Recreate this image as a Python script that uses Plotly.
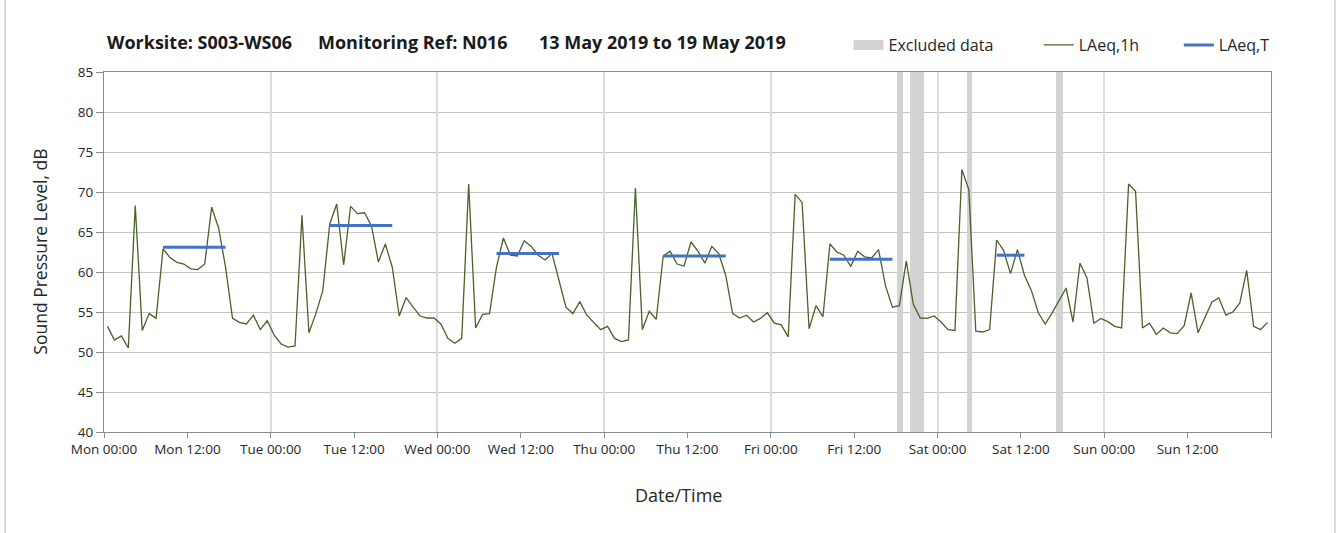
import pandas as pd
import plotly.graph_objects as go

# ---- data -------------------------------------------------------------
start_time = "2019-05-13 00:30"   # first hourly value (plotted mid-hour)
laeq_1h_mon = [53.2, 51.5, 52.0, 50.5, 68.3, 52.7, 54.8, 54.2, 62.9, 61.8, 61.2, 61.0,
               60.4, 60.3, 61.0, 68.1, 65.5, 60.6, 54.2, 53.7, 53.5, 54.6, 52.8, 53.9]
laeq_1h_tue = [52.1, 51.0, 50.6, 50.75, 67.1, 52.4, 54.8, 57.7, 66.0, 68.5, 60.9, 68.2,
               67.3, 67.4, 65.8, 61.25, 63.5, 60.6, 54.5, 56.8, 55.6, 54.5, 54.25, 54.25]
laeq_1h_wed = [53.5, 51.7, 51.1, 51.7, 71.0, 53.0, 54.7, 54.8, 60.6, 64.25, 62.1, 62.0,
               63.9, 63.2, 62.1, 61.5, 62.3, 59.0, 55.6, 54.8, 56.3, 54.6, 53.75, 52.8]
laeq_1h_thu = [53.2, 51.7, 51.3, 51.5, 70.5, 52.8, 55.1, 54.1, 62.0, 62.6, 61.0, 60.75,
               63.75, 62.6, 61.1, 63.2, 62.3, 59.6, 54.8, 54.25, 54.6, 53.75, 54.2, 54.9]
laeq_1h_fri = [53.6, 53.4, 51.9, 69.7, 68.7, 52.9, 55.8, 54.4, 63.5, 62.5, 62.1, 60.7,
               62.6, 61.9, 61.75, 62.8, 58.3, 55.6, 55.8, 61.4, 56.0, 54.25, 54.2, 54.5]
laeq_1h_sat = [53.75, 52.8, 52.7, 72.8, 70.3, 52.6, 52.5, 52.8, 64.0, 62.7, 59.8, 62.8,
               59.6, 57.7, 54.9, 53.5, 54.9, 56.5, 58.0, 53.75, 61.1, 59.3, 53.6, 54.2]
laeq_1h_sun = [53.8, 53.2, 53.0, 71.0, 70.1, 53.0, 53.6, 52.2, 53.0, 52.4, 52.3, 53.3,
               57.4, 52.4, 54.4, 56.25, 56.75, 54.6, 55.0, 56.1, 60.2, 53.2, 52.8, 53.7]

# LAeq,T per period
laeqT_start = ["2019-05-13 08:30", "2019-05-14 08:30", "2019-05-15 08:30",
               "2019-05-16 08:30", "2019-05-17 08:30", "2019-05-18 08:30"]
laeqT_end = ["2019-05-13 17:30", "2019-05-14 17:30", "2019-05-15 17:30",
             "2019-05-16 17:30", "2019-05-17 17:30", "2019-05-18 12:30"]
laeqT_values = [63.1, 65.8, 62.3, 62.0, 61.6, 62.1]

# Excluded data periods
excluded_start = ["2019-05-17 18:06", "2019-05-17 20:06", "2019-05-18 04:12", "2019-05-18 17:06"]
excluded_end = ["2019-05-17 19:00", "2019-05-17 22:06", "2019-05-18 05:00", "2019-05-18 18:06"]

# x tick labels (every 12 h; final tick unlabeled)
tick_labels = ["Mon 00:00", "Mon 12:00", "Tue 00:00", "Tue 12:00", "Wed 00:00", "Wed 12:00",
               "Thu 00:00", "Thu 12:00", "Fri 00:00", "Fri 12:00", "Sat 00:00", "Sat 12:00",
               "Sun 00:00", "Sun 12:00", ""]

y_min, y_max = 40, 85
x_range = ["2019-05-13 00:00", "2019-05-20 00:00"]

title_parts = ["Worksite: S003-WS06", "Monitoring Ref: N016", "13 May 2019 to 19 May 2019"]

# ---- build ------------------------------------------------------------
laeq_1h = (laeq_1h_mon + laeq_1h_tue + laeq_1h_wed + laeq_1h_thu +
           laeq_1h_fri + laeq_1h_sat + laeq_1h_sun)
times = pd.date_range(start_time, periods=len(laeq_1h), freq="h")
tick_vals = pd.date_range(x_range[0], periods=len(tick_labels), freq="12h")

ex_s = pd.to_datetime(excluded_start)
ex_e = pd.to_datetime(excluded_end)
ex_mid = ex_s + (ex_e - ex_s) / 2
ex_w = [(e - s).total_seconds() * 1000 for s, e in zip(ex_s, ex_e)]

bx, by = [], []
for s, e, v in zip(laeqT_start, laeqT_end, laeqT_values):
    bx += [s, e, None]
    by += [v, v, None]

FONT = "Open Sans, Lato, sans-serif"
TXT = "#262626"
AX = "#8c8c8c"
EXC = "#d3d3d3"

fig = go.Figure()

fig.add_trace(go.Bar(
    x=ex_mid, y=[y_max - y_min] * len(ex_mid), base=[y_min] * len(ex_mid),
    width=ex_w, marker=dict(color=EXC, line=dict(width=0)),
    name="Excluded data", legend="legend", legendgroup="exc", showlegend=False,
    xaxis="x", yaxis="y", hoverinfo="skip"))
# legend swatch for the excluded periods (wide grey block)
fig.add_trace(go.Scatter(
    x=[None], y=[None], mode="lines", name="Excluded data", legend="legend",
    legendgroup="exc", showlegend=True, line=dict(color=EXC, width=10),
    xaxis="x", yaxis="y"))

fig.add_trace(go.Scatter(
    x=times, y=laeq_1h, mode="lines", name="LAeq,1h", showlegend=True,
    line=dict(color="#4A6129", width=1.3), legend="legend2",
    xaxis="x2", yaxis="y"))

fig.add_trace(go.Scatter(
    x=bx, y=by, mode="lines", name="LAeq,T", showlegend=True,
    line=dict(color="#4472C4", width=3), legend="legend3",
    xaxis="x2", yaxis="y", connectgaps=False))

axis_font = dict(family=FONT, size=13.5, color=TXT)
leg_common = dict(y=1.075, xanchor="left", yanchor="middle", orientation="h",
                  font=dict(family=FONT, size=16, color=TXT), bgcolor="rgba(0,0,0,0)")

fig.update_layout(
    width=1341, height=533, autosize=False,
    margin=dict(l=104, r=70, t=72, b=101, autoexpand=False),
    paper_bgcolor="white", plot_bgcolor="white",
    font=dict(family=FONT, color=TXT),
    bargap=0, showlegend=True,
    xaxis=dict(
        type="date", range=x_range, tickmode="array", tickvals=tick_vals, ticktext=tick_labels,
        showgrid=False, zeroline=False, automargin=False,
        showline=True, linecolor=AX, linewidth=1, mirror=True,
        ticks="outside", ticklen=5, tickcolor=AX, tickfont=axis_font,
    ),
    xaxis2=dict(
        type="date", range=x_range, overlaying="x", anchor="y", side="bottom",
        tick0="2019-05-13", dtick=24 * 3600 * 1000, automargin=False,
        showgrid=True, gridcolor="#dcdcdc", gridwidth=1.5,
        showticklabels=False, ticks="", showline=False, zeroline=False,
    ),
    yaxis=dict(
        range=[y_min, y_max], dtick=5, tick0=40, automargin=False,
        showgrid=True, gridcolor="#c4c4c4", gridwidth=1, zeroline=False,
        showline=True, linecolor=AX, linewidth=1, mirror=True,
        ticks="outside", ticklen=7, tickcolor=AX, tickfont=axis_font,
    ),
    legend=dict(x=0.638, **leg_common),
    legend2=dict(x=0.801, **leg_common),
    legend3=dict(x=0.921, **leg_common),
)

title_x = [0.0006, 0.1817, 0.3709]
for txt, xp in zip(title_parts, title_x):
    fig.add_annotation(text=f"<b>{txt}</b>", x=xp, y=1.0825, xref="paper", yref="paper",
                       xanchor="left", yanchor="middle", showarrow=False,
                       font=dict(family=FONT, size=18, color="#1a1a1a"))

# axis titles
fig.add_annotation(text="Date/Time", x=0.492, y=-0.175, xref="paper", yref="paper",
                   xanchor="center", yanchor="middle", showarrow=False,
                   font=dict(family=FONT, size=18, color=TXT))
fig.add_annotation(text="Sound Pressure Level, dB", x=-0.0551, y=0.5, xref="paper", yref="paper",
                   xanchor="center", yanchor="middle", showarrow=False, textangle=-90,
                   font=dict(family=FONT, size=17.5, color=TXT))

# outer chart frame (left and right edges of the chart container)
for xp in (-0.0848, 1.0548):
    fig.add_shape(type="line", xref="paper", yref="paper",
                  x0=xp, x1=xp, y0=-0.30, y1=1.22,
                  line=dict(color="#d0d0d0", width=1.5), layer="above")

# remove the default page margin so the figure sits at the window origin
fig.write_html("out.html", config={"displayModeBar": False},
               post_script="document.body.style.margin='0';")
